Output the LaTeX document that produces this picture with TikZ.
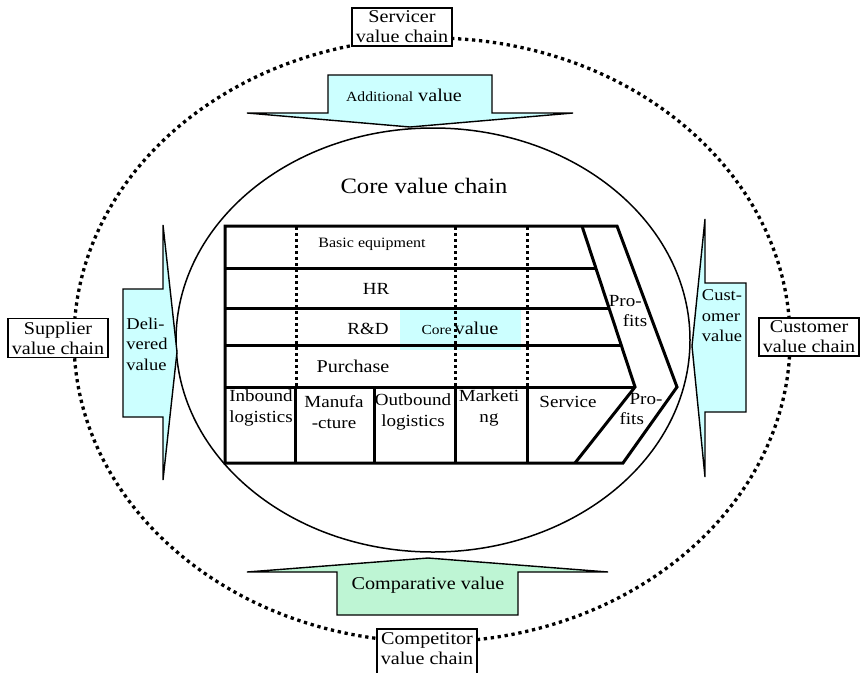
\documentclass[tikz,border=0pt]{standalone}
\usepackage{fontspec}
\setmainfont[FakeStretch=1.12]{Liberation Serif}
\usetikzlibrary{positioning}
\definecolor{paleaqua}{RGB}{204,255,255}
\definecolor{palemint}{RGB}{190,245,212}
\tikzset{
  chainlbl/.style={draw, line width=1.4pt, fill=white, align=center, inner xsep=4pt,
                   inner ysep=3pt, font=\fontsize{18}{20}\selectfont},
  valuearrow/.style={draw, line width=1.4pt, fill=paleaqua, line join=miter},
  valuetext/.style={align=center, inner sep=0pt, font=\fontsize{16.5}{20.5}\selectfont},
  rowline/.style={line width=3pt},
  splitline/.style={line width=3pt, dash pattern=on 3pt off 3pt},
  celltext/.style={align=center, inner sep=0pt, font=\fontsize{17}{20.5}\selectfont}
}

\begin{document}
\begin{tikzpicture}[x=1pt, y=-1pt]
\useasboundingbox (0,0) rectangle (861,672);

% outer ring and core ellipse
\draw[line width=3.3pt, dash pattern=on 3.3pt off 3.7pt] (432,340) ellipse [x radius=358pt, y radius=302pt];
\draw[line width=1.5pt] (433,340) ellipse [x radius=257pt, y radius=212pt];
\node[font=\fontsize{22}{24}\selectfont] (core) at (424,186) {Core value chain};

% value arrows
\draw[valuearrow] (328,75) -- (492,75) -- (492,113) -- (573,113) -- (410,127)
  -- (247,113) -- (328,113) -- cycle;
\node[valuetext, font=\fontsize{18}{20}\selectfont] (addval) at (404,95)
  {{\fontsize{14}{16}\selectfont Additional} value};
\draw[valuearrow] (123,289) -- (163,289) -- (163,225) -- (177,352) -- (163,480)
  -- (163,417) -- (123,417) -- cycle;
\node[valuetext, align=left] (delval) at (147,344) {Deli-\\vered\\value};
\draw[valuearrow] (746,283) -- (705,283) -- (705,219) -- (692,346) -- (705,477)
  -- (705,412) -- (746,412) -- cycle;
\node[valuetext, align=left] (custval) at (722,316) {Cust-\\omer\\value};
\draw[valuearrow, fill=palemint] (337,615) -- (337,572) -- (247,572) -- (428,558)
  -- (608,572) -- (518,572) -- (518,615) -- cycle;
\node[valuetext, font=\fontsize{18}{20}\selectfont] (compval) at (428,585) {Comparative value};

% outside chains
\node[chainlbl] (servicer) at (402,27) {Servicer\\value chain};
\node[chainlbl] (supplier) at (58,338) {Supplier\\value chain};
\node[chainlbl] (customer) at (809,337) {Customer\\value chain};
\node[chainlbl, minimum height=48pt, text depth=8pt] (competitor) at (427,653) {Competitor\\value chain};

% the chain itself
\fill[paleaqua] (400,310) rectangle (521,350);
\draw[rowline] (225,268) -- (596,268);
\draw[rowline] (225,308) -- (609,308);
\draw[rowline] (225,345) -- (621,345);
\draw[rowline] (225,387) -- (635,387);
\foreach \xx in {296,455,527}
  \draw[splitline] (\xx,227) -- (\xx,386);
\foreach \xx in {295,374,455,527}
  \draw[rowline] (\xx,387) -- (\xx,463);
\draw[rowline] (582,226) -- (635,387) -- (575,463);
\draw[rowline, line join=miter] (225,226) -- (617,226) -- (677,387) -- (623,463)
  -- (225,463) -- cycle;

\node[celltext, font=\fontsize{14.3}{17}\selectfont] (equip) at (372,244) {Basic equipment};
\node[celltext] (hr) at (376,289) {HR};
\node[celltext] (rd) at (368,329) {R\&D};
\node[celltext, font=\fontsize{18}{21}\selectfont] (coreval) at (460,328)
  {{\fontsize{13.8}{16}\selectfont Core}\,value};
\node[celltext, font=\fontsize{18}{21}\selectfont] (purch) at (353,366) {Purchase};
\node[celltext] (inbound) at (261,408) {Inbound\\logistics};
\node[celltext] (manuf) at (334,412) {Manufa\\-cture};
\node[celltext] (outbound) at (413,412) {Outbound\\logistics};
\node[celltext] (mkt) at (489,408) {Marketi\\ng};
\node[celltext] (serv) at (568,402) {Service};
\node[celltext, align=left] (profup) at (628,311) {Pro-\\\hspace*{14pt}fits};
\node[celltext, align=left] (proflow) at (641,409) {\hspace*{10pt}Pro-\\fits};
\end{tikzpicture}
\end{document}
